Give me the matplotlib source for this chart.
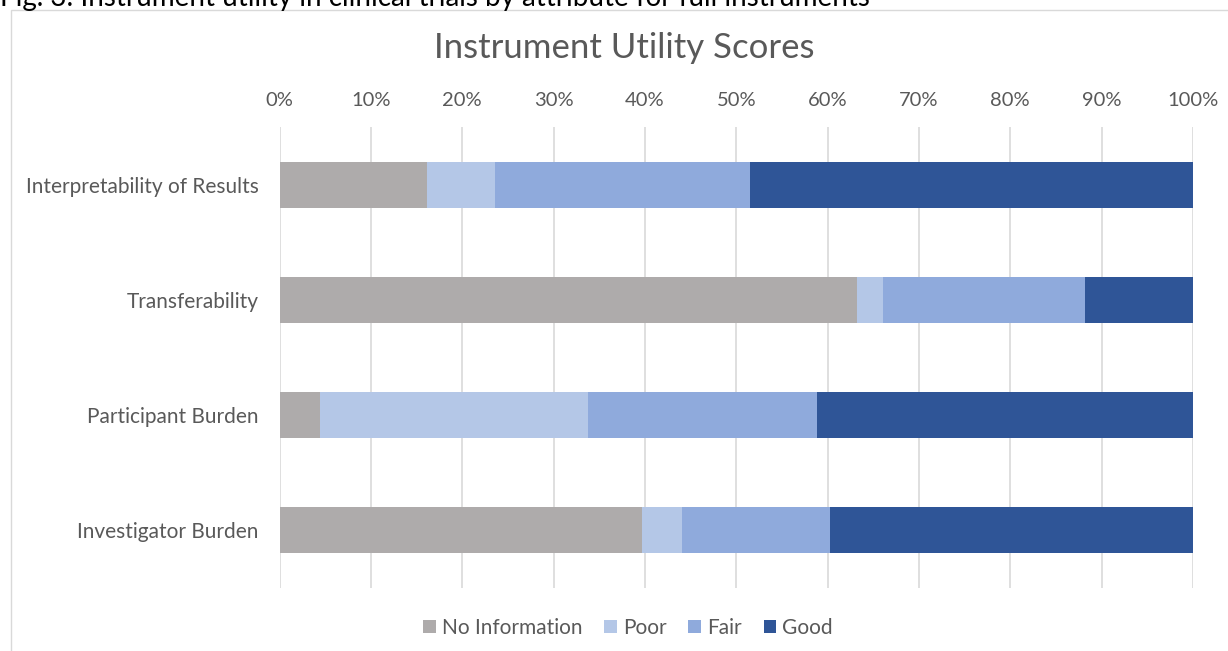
import matplotlib
matplotlib.use("Agg")
import matplotlib.pyplot as plt
from matplotlib.patches import Rectangle
from matplotlib.ticker import PercentFormatter

plt.rcParams['font.family'] = ['Lato', 'DejaVu Sans']

categories = ["Interpretability of Results", "Transferability", "Participant Burden", "Investigator Burden"]
series_names = ["No Information", "Poor", "Fair", "Good"]
no_info = [16.2, 63.2, 4.4, 39.7]
poor = [7.4, 2.9, 29.4, 4.4]
fair = [27.9, 22.1, 25.0, 16.2]
good = [48.5, 11.8, 41.2, 39.7]
colors = ["#AEABAB", "#B4C7E7", "#8FAADC", "#2F5597"]
xticks = [0, 10, 20, 30, 40, 50, 60, 70, 80, 90, 100]

W, H = 1228, 651
fig = plt.figure(figsize=(W / 100, H / 100), dpi=100)
fig.patch.set_facecolor("white")

# chart border
fig.add_artist(Rectangle((10.5 / W, -0.05), 1.2, 1 - 10.5 / H + 0.05, transform=fig.transFigure,
                         fill=False, edgecolor="#D9D9D9", linewidth=1.0))

# cut-off caption (as in the reference, only its lower part is visible)
fig.text(0.0 / W, 1 - 6 / H, "Fig. 3: Instrument utility in clinical trials by attribute for full instruments",
         fontsize=20, color="black", ha="left", va="baseline")

ax = fig.add_axes([279.5 / W, 1 - 588 / H, (1193 - 279.5) / W, (588 - 127) / H])
ypos = list(range(len(categories)))
left = [0.0] * len(categories)
for name, vals, c in zip(series_names, [no_info, poor, fair, good], colors):
    ax.barh(ypos, vals, left=left, height=0.4, color=c, label=name, zorder=3)
    left = [l + v for l, v in zip(left, vals)]

ax.set_xlim(0, 100)
ax.set_ylim(len(categories) - 0.5, -0.5)
ax.set_xticks(xticks)
ax.xaxis.set_major_formatter(PercentFormatter(decimals=0))
ax.xaxis.tick_top()
ax.set_yticks(ypos)
ax.set_yticklabels(categories)
ax.tick_params(axis="both", length=0, colors="#595959")
ax.tick_params(axis="x", pad=13, labelsize=14.5)
ax.tick_params(axis="y", pad=15, labelsize=15)
ax.grid(axis="x", color="#D9D9D9", linewidth=1.2, zorder=0)
for s in ax.spines.values():
    s.set_visible(False)

fig.text(624 / W, 1 - 48 / H, "Instrument Utility Scores", fontsize=25, color="#595959", ha="center", va="center")

handles, labels = ax.get_legend_handles_labels()
fig.legend(handles, labels, loc="center", bbox_to_anchor=(628 / W, 1 - 628 / H), ncol=4, frameon=False,
           fontsize=15, labelcolor="#595959", handlelength=0.6, handleheight=0.6, handletextpad=0.3,
           columnspacing=1.05)

fig.savefig("out.png", dpi=100)
